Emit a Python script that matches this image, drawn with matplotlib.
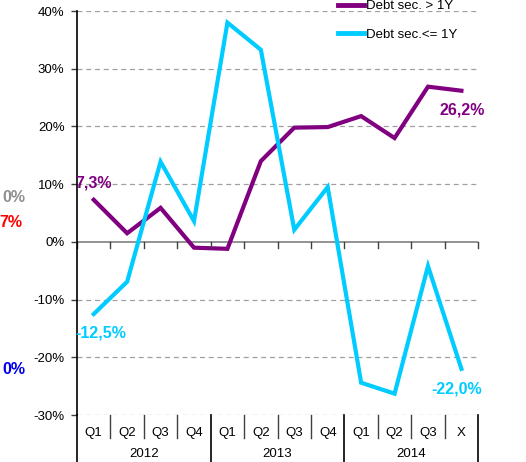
import matplotlib
matplotlib.use('Agg')
import matplotlib.pyplot as plt
import matplotlib.transforms as mtransforms

plt.rcParams['font.family'] = ['Liberation Sans', 'DejaVu Sans']

quarters = ['Q1', 'Q2', 'Q3', 'Q4', 'Q1', 'Q2', 'Q3', 'Q4', 'Q1', 'Q2', 'Q3', 'X']
years = ['2012', '2013', '2014']
long_term = [7.3, 1.5, 5.9, -1.0, -1.2, 14.0, 19.8, 19.9, 21.8, 18.0, 26.9, 26.2]
short_term = [-12.5, -6.9, 13.9, 3.6, 38.0, 33.3, 2.1, 9.5, -24.4, -26.3, -4.2, -22.0]
yticks = [-30, -20, -10, 0, 10, 20, 30, 40]

purple = '#800080'
cyan = '#00CCFF'

fig = plt.figure(figsize=(5.26, 4.62), dpi=100)
ax = fig.add_axes([0.1464, 0.1017, 0.909 - 0.1464, 0.976 - 0.1017])

x = list(range(len(quarters)))
ax.plot(x, long_term, color=purple, lw=3, label='Debt sec. > 1Y', solid_joinstyle='miter')
ax.plot(x, short_term, color=cyan, lw=3, label='Debt sec.<= 1Y', solid_joinstyle='miter')

ax.set_xlim(-0.5, 11.5)
ax.set_ylim(-30, 40)
ax.set_yticks(yticks)
ax.set_yticklabels([f'{v}%' for v in yticks], fontsize=9.5)
ax.tick_params(axis='y', direction='out', length=4, width=1, color='#404040', pad=5)
ax.set_xticks([])
for v in yticks:
    if v != 0:
        ax.axhline(v, color='#a0a0a0', lw=0.9, ls=(0, (4, 3)), zorder=0)
ax.axhline(0, color='#808080', lw=1.2, zorder=0)

for s in ['top', 'right', 'bottom']:
    ax.spines[s].set_visible(False)
ax.spines['left'].set_linewidth(1.2)

# ticks on the zero line and category separators below the plot
trans = mtransforms.blended_transform_factory(ax.transData, ax.transAxes)
ylo = -47 / 404
for i in range(len(quarters) + 1):
    b = i - 0.5
    ax.plot([b, b], [0, -1.0], color='#404040', lw=1, clip_on=False)
    if i % 4 == 0:
        ax.plot([b, b], [0, ylo], color='black', lw=1.2, clip_on=False, transform=trans)
    else:
        ax.plot([b, b], [0, -23 / 404], color='#404040', lw=1, clip_on=False, transform=trans)
for i, q in enumerate(quarters):
    ax.text(i, -18 / 404, q, transform=trans, ha='center', va='center', fontsize=9.5)
for j, yr in enumerate(years):
    ax.text(4 * j + 1.5, -39 / 404, yr, transform=trans, ha='center', va='center', fontsize=9.5)

# data labels
ax.text(-0.55, 10.2, '7,3%', color=purple, fontsize=11.5, fontweight='bold', ha='left', va='center')
ax.text(-0.55, -15.8, '-12,5%', color=cyan, fontsize=11.5, fontweight='bold', ha='left', va='center')
ax.text(10.35, 22.8, '26,2%', color=purple, fontsize=11.5, fontweight='bold', ha='left', va='center')
ax.text(10.1, -25.5, '-22,0%', color=cyan, fontsize=11.5, fontweight='bold', ha='left', va='center')

# labels of the neighbouring chart, visible at the left edge
fig.text(25 / 526, 1 - 197 / 462, '0%', color='#909090', fontsize=11.5, fontweight='bold', ha='right', va='center')
fig.text(22 / 526, 1 - 223 / 462, '7%', color='red', fontsize=11.5, fontweight='bold', ha='right', va='center')
fig.text(25 / 526, 1 - 370 / 462, '0%', color='#0000ee', fontsize=11.5, fontweight='bold', ha='right', va='center')

leg = ax.legend(loc='upper left', bbox_to_anchor=(0.62, 1.057), frameon=False, fontsize=9.5,
                handlelength=2.0, handletextpad=0.15, labelspacing=1.25)
for line in leg.get_lines():
    line.set_linewidth(3.5)

fig.savefig('out.png', dpi=100)
